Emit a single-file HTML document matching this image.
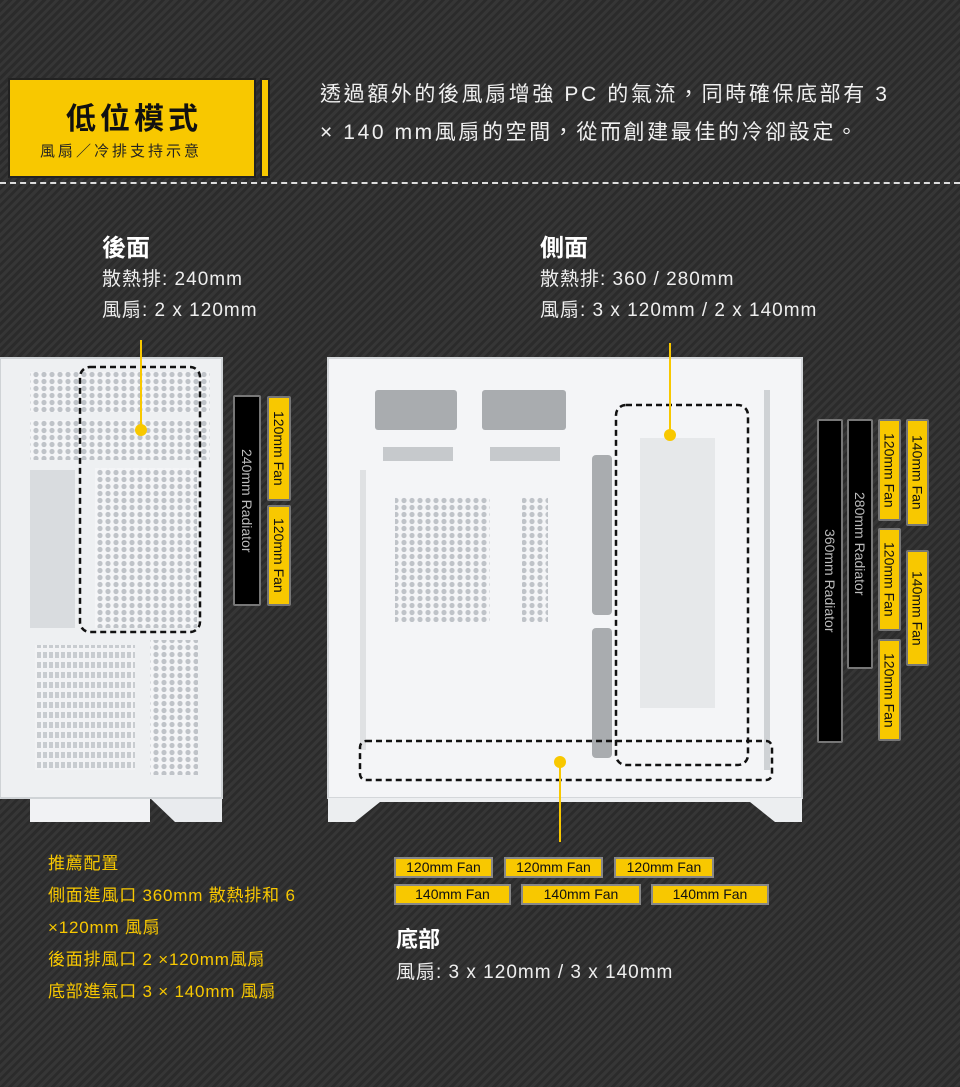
<!DOCTYPE html>
<html><head><meta charset="utf-8"><style>
*{margin:0;padding:0;box-sizing:border-box}
body{width:960px;height:1087px;overflow:hidden;background:#2f2f2f;background-image:repeating-linear-gradient(135deg,#2b2b2b 0 3px,#363636 3px 6px);font-family:"Liberation Sans","Noto Sans CJK TC",sans-serif;position:relative;color:#eee}
.a{position:absolute}
.t{white-space:nowrap}
.v{position:absolute;writing-mode:vertical-rl;font-size:14px;display:flex;align-items:center;justify-content:center;border:2px solid #777;border-radius:2px}
.y{background:#f8c800;color:#111}
.k{background:#000;color:#bbb}
.h{position:absolute;font-size:14px;background:#f8c800;color:#111;border:2px solid #888;text-align:center;line-height:17px;height:21px}
</style></head><body>
<div class="a" style="left:8px;top:78px;width:248px;height:100px;background:#f8c800;border:2px solid #222"></div>
<div class="a" style="left:260px;top:78px;width:10px;height:100px;background:#f8c800;border:2px solid #222"></div>
<div class="a t" style="left:66px;top:94px;font-size:30px;font-weight:bold;color:#111;letter-spacing:4px">低位模式</div>
<div class="a t" style="left:40px;top:140px;font-size:15px;color:#222;letter-spacing:3px">風扇／冷排支持示意</div>
<div class="a t" style="left:320px;top:76px;font-size:21px;line-height:38px;color:#f0f0f0;letter-spacing:2.6px">透過額外的後風扇增強 PC 的氣流，同時確保底部有 3<br>× 140 mm風扇的空間，從而創建最佳的冷卻設定。</div>
<div class="a" style="left:0;top:182px;width:960px;border-top:2px dashed #ddd"></div>

<div class="a t" style="left:102px;top:228px;font-size:24px;font-weight:bold;color:#fff">後面</div>
<div class="a t" style="left:102px;top:264px;font-size:19px;line-height:31px;color:#eee;letter-spacing:1px">散熱排: 240mm<br>風扇: 2 x 120mm</div>
<div class="a t" style="left:540px;top:228px;font-size:24px;font-weight:bold;color:#fff">側面</div>
<div class="a t" style="left:540px;top:264px;font-size:19px;line-height:31px;color:#eee;letter-spacing:1px">散熱排: 360 / 280mm<br>風扇: 3 x 120mm / 2 x 140mm</div>

<svg class="a" style="left:0;top:0" width="960" height="1087">
<defs><pattern id="hx" width="8" height="7" patternUnits="userSpaceOnUse"><rect width="8" height="7" fill="#f4f5f7"/><circle cx="4" cy="3.5" r="2.6" fill="#bfc3c8"/></pattern>
<pattern id="sl" width="6" height="10" patternUnits="userSpaceOnUse"><rect width="6" height="10" fill="#f2f3f5"/><rect x="1" y="2" width="4" height="6" fill="#c8ccd0"/></pattern></defs>
<rect x="0" y="358" width="222" height="440" fill="#eef0f2"/>
<path d="M30 798 H222 V822 H175 L150 798Z" fill="#e9ebee"/>
<rect x="30" y="798" width="120" height="24" fill="#f1f2f4"/>
<rect x="30" y="372" width="180" height="40" fill="url(#hx)"/>
<rect x="30" y="420" width="180" height="40" fill="url(#hx)"/>
<rect x="95" y="468" width="102" height="160" fill="url(#hx)"/>
<rect x="30" y="470" width="45" height="158" fill="#d9dcdf"/>
<rect x="35" y="645" width="100" height="125" fill="url(#sl)"/>
<rect x="150" y="640" width="48" height="135" fill="url(#hx)"/>
<rect x="0" y="358" width="222" height="440" fill="none" stroke="#cfd3d6" stroke-width="2"/>
<rect x="80" y="367" width="120" height="265" rx="10" fill="none" stroke="#111" stroke-width="2.5" stroke-dasharray="6,4"/>
<line x1="141" y1="340" x2="141" y2="430" stroke="#f8c800" stroke-width="2"/>
<circle cx="141" cy="430" r="6" fill="#f8c800"/>
<rect x="328" y="358" width="474" height="440" fill="#f4f5f7" stroke="#d4d7da" stroke-width="2"/>
<path d="M328 798 H802 V822 H775 L750 802 H380 L355 822 H328Z" fill="#eceef0"/>
<rect x="375" y="390" width="82" height="40" rx="3" fill="#a9acaf"/>
<rect x="482" y="390" width="84" height="40" rx="3" fill="#a9acaf"/>
<rect x="383" y="447" width="70" height="14" fill="#c6c9cc"/>
<rect x="490" y="447" width="70" height="14" fill="#c6c9cc"/>
<rect x="395" y="497" width="95" height="125" fill="url(#hx)"/>
<rect x="522" y="497" width="26" height="125" fill="url(#hx)"/>
<rect x="592" y="455" width="20" height="160" rx="4" fill="#a9acaf"/>
<rect x="592" y="628" width="20" height="130" rx="4" fill="#a9acaf"/>
<rect x="640" y="438" width="75" height="270" fill="#e6e8ea"/>
<rect x="360" y="470" width="6" height="280" fill="#dfe1e3"/>
<rect x="764" y="390" width="6" height="380" fill="#cfd2d5"/>
<rect x="616" y="405" width="132" height="360" rx="10" fill="none" stroke="#111" stroke-width="2.5" stroke-dasharray="6,4"/>
<rect x="360" y="741" width="412" height="39" rx="6" fill="none" stroke="#111" stroke-width="2.5" stroke-dasharray="6,4"/>
<line x1="670" y1="343" x2="670" y2="435" stroke="#f8c800" stroke-width="2"/>
<circle cx="670" cy="435" r="6" fill="#f8c800"/>
<line x1="560" y1="762" x2="560" y2="842" stroke="#f8c800" stroke-width="2"/>
<circle cx="560" cy="762" r="6" fill="#f8c800"/>
</svg>

<div class="v k" style="left:233px;top:395px;width:28px;height:211px">240mm Radiator</div>
<div class="v y" style="left:267px;top:396px;width:24px;height:105px">120mm Fan</div>
<div class="v y" style="left:267px;top:505px;width:24px;height:101px">120mm Fan</div>

<div class="v k" style="left:817px;top:419px;width:26px;height:324px">360mm Radiator</div>
<div class="v k" style="left:847px;top:419px;width:26px;height:250px">280mm Radiator</div>
<div class="v y" style="left:878px;top:419px;width:23px;height:102px">120mm Fan</div>
<div class="v y" style="left:878px;top:528px;width:23px;height:103px">120mm Fan</div>
<div class="v y" style="left:878px;top:639px;width:23px;height:102px">120mm Fan</div>
<div class="v y" style="left:906px;top:419px;width:23px;height:107px">140mm Fan</div>
<div class="v y" style="left:906px;top:550px;width:23px;height:116px">140mm Fan</div>

<div class="h" style="left:394px;top:857px;width:99px">120mm Fan</div>
<div class="h" style="left:504px;top:857px;width:99px">120mm Fan</div>
<div class="h" style="left:614px;top:857px;width:100px">120mm Fan</div>
<div class="h" style="left:394px;top:884px;width:117px">140mm Fan</div>
<div class="h" style="left:521px;top:884px;width:120px">140mm Fan</div>
<div class="h" style="left:651px;top:884px;width:118px">140mm Fan</div>

<div class="a t" style="left:396px;top:922px;font-size:22px;font-weight:bold;color:#fff">底部</div>
<div class="a t" style="left:396px;top:957px;font-size:19px;color:#eee;letter-spacing:1px">風扇: 3 x 120mm / 3 x 140mm</div>

<div class="a t" style="left:48px;top:848px;font-size:17px;line-height:32px;color:#f8c800;letter-spacing:0.8px">推薦配置<br>側面進風口 360mm 散熱排和 6<br>×120mm 風扇<br>後面排風口 2 ×120mm風扇<br>底部進氣口 3 × 140mm 風扇</div>
</body></html>
